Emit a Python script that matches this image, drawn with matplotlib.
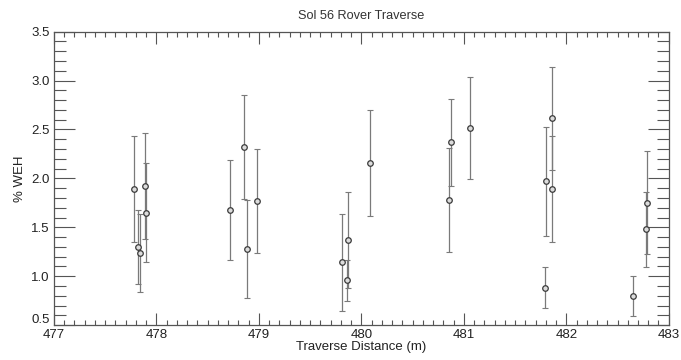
#!/usr/bin/env python3
"""Sol 56 rover traverse: % WEH with error bars vs traverse distance."""

import matplotlib
matplotlib.use("Agg")
import matplotlib.pyplot as plt
from matplotlib.ticker import MultipleLocator, FuncFormatter

# values
distance = [477.78, 477.82, 477.836, 477.885, 477.895,
            478.714, 478.857, 478.886, 478.983,
            479.808, 479.857, 479.870, 480.083,
            480.856, 480.870, 481.065,
            481.795, 481.803, 481.859, 481.859,
            482.655, 482.779, 482.790]
weh = [1.89, 1.30, 1.24, 1.925, 1.65,
       1.68, 2.32, 1.28, 1.77,
       1.14, 0.96, 1.37, 2.155,
       1.78, 2.37, 2.515,
       0.88, 1.97, 2.615, 1.89,
       0.80, 1.48, 1.75]
weh_err = [0.54, 0.38, 0.40, 0.54, 0.51,
           0.51, 0.53, 0.50, 0.53,
           0.50, 0.21, 0.49, 0.54,
           0.53, 0.445, 0.52,
           0.21, 0.56, 0.525, 0.54,
           0.205, 0.385, 0.525]

TITLE = "Sol 56 Rover Traverse"
XLABEL = "Traverse Distance (m)"
YLABEL = "% WEH"
Y_MIN, Y_MAX = 0.5, 3.5

plt.rcParams["font.family"] = ["Liberation Sans", "DejaVu Sans"]

fig = plt.figure(figsize=(6.81, 3.60), dpi=100)
ax = fig.add_axes([0.0793, 0.097, 0.9027, 0.815])

ax.errorbar(distance, weh, yerr=weh_err, fmt="none", ecolor="#7a7a7a",
            elinewidth=0.9, capsize=2.0, capthick=0.8)
ax.plot(distance, weh, "o", ms=4, mfc="#dcdcdc", mec="#3a3a3a", mew=0.9,
        ls="none")

ax.set_xlim(477, 483)
ax.set_ylim(Y_MIN, Y_MAX)
ax.xaxis.set_major_locator(MultipleLocator(1))
ax.xaxis.set_minor_locator(MultipleLocator(0.1))
ax.yaxis.set_major_locator(MultipleLocator(0.5))
ax.yaxis.set_minor_locator(MultipleLocator(0.1))
# the bottom y label is drawn separately, a bit raised, so it clears "477"
ax.yaxis.set_major_formatter(FuncFormatter(
    lambda v, _: "" if abs(v - Y_MIN) < 1e-9 else f"{v:.1f}"))

for s in ax.spines.values():
    s.set_color("#555555")
    s.set_linewidth(0.9)

ax.tick_params(axis="both", which="both", direction="in", colors="#555555",
               labelcolor="#222222", labelsize=9.5, width=0.8,
               top=True, right=True)
ax.tick_params(axis="x", which="major", length=8.5, pad=3)
ax.tick_params(axis="x", which="minor", length=3.6)
ax.tick_params(axis="y", which="major", length=15, pad=3)
ax.tick_params(axis="y", which="minor", length=8.5)

ax.annotate(f"{Y_MIN:.1f}", xy=(477, Y_MIN), xycoords="data",
            xytext=(-3, 4), textcoords="offset points",
            ha="right", va="center", fontsize=9.5, color="#222222")

ax.set_title(TITLE, fontsize=9.2, color="#333333", pad=9)
ax.set_xlabel(XLABEL, fontsize=9.5, color="#222222", labelpad=0)
ax.set_ylabel(YLABEL, fontsize=9.5, color="#222222", labelpad=4)

fig.savefig("out.png", dpi=100)
